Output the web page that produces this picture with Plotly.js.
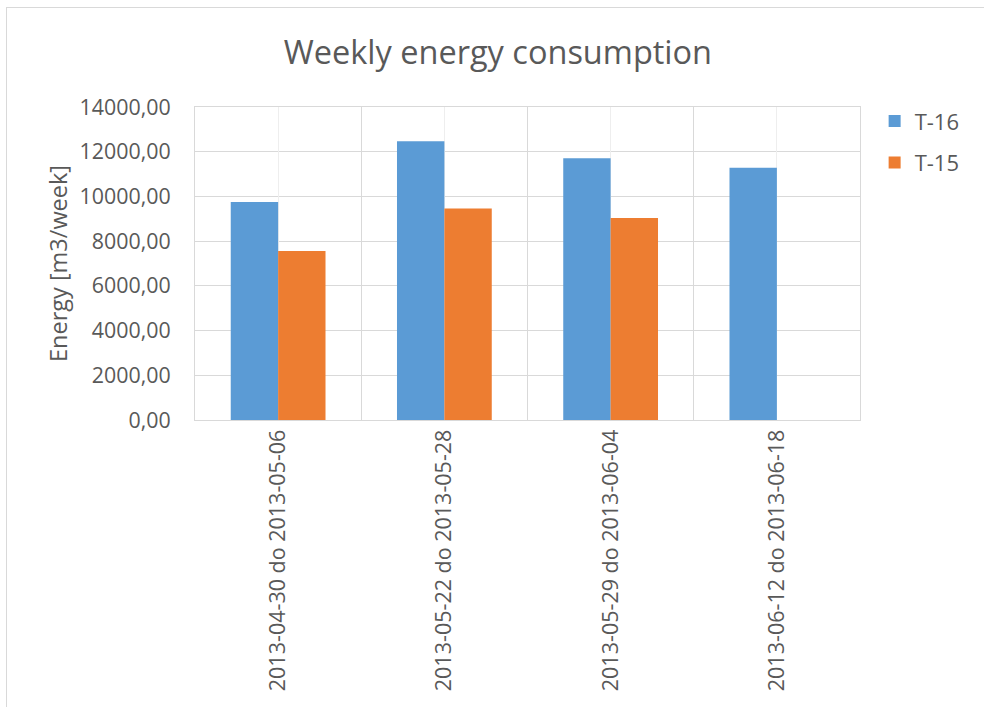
<!DOCTYPE html>
<html>
<head>
<meta charset="utf-8">
<script src="https://cdn.plot.ly/plotly-3.0.1.min.js"></script>
<style>
html,body{margin:0;padding:0;background:#fff;}
#wrap{position:relative;width:984px;height:707px;overflow:hidden;}
#chart{position:absolute;left:0;top:0;width:984px;height:707px;}
#frame{position:absolute;left:6px;top:7px;width:990px;height:720px;border:1px solid #d9d9d9;pointer-events:none;}
</style>
</head>
<body>
<div id="wrap"><div id="chart"></div><div id="frame"></div></div>
<script>
const categories = ["2013-04-30 do 2013-05-06", "2013-05-22 do 2013-05-28", "2013-05-29 do 2013-06-04", "2013-06-12 do 2013-06-18"];
const t16 = [9750, 12470, 11710, 11280];
const t15 = [7560, 9460, 9030, null];
const yTicks = [0, 2000, 4000, 6000, 8000, 10000, 12000, 14000];
const centerTicks = [0, 1, 2, 3];

const FONT = "Open Sans, Liberation Sans, Arial, sans-serif";
const GREY = "#595959";

const traces = [
  {type: "bar", name: "T-16", legendgroup: "a", x: categories, y: t16, marker: {color: "#5b9bd5"}},
  {type: "bar", name: "T-15", legendgroup: "b", x: categories, y: t15, marker: {color: "#ed7d31"}},
  {type: "scatter", x: centerTicks, y: centerTicks.map(() => null), xaxis: "x2", showlegend: false, hoverinfo: "skip"}
];

const layout = {
  width: 984, height: 707,
  margin: {l: 195, r: 124, t: 107, b: 287},
  paper_bgcolor: "#ffffff", plot_bgcolor: "#ffffff",
  separators: ", ",
  barmode: "group", bargap: 0.43, bargroupgap: 0,
  font: {family: FONT, color: GREY, size: 20},
  title: {text: "Weekly energy consumption", font: {family: FONT, size: 32.5, color: GREY}, x: 0.506, xanchor: "center", y: 0.925, yanchor: "middle"},
  xaxis: {
    type: "category", tickangle: -90, tickson: "boundaries",
    showgrid: true, gridcolor: "#d9d9d9", gridwidth: 1,
    showline: true, linecolor: "#d9d9d9", linewidth: 1, mirror: true,
    ticks: "outside", ticklen: 4, tickcolor: "rgba(0,0,0,0)", tickfont: {size: 21.5, color: GREY}, automargin: false
  },
  xaxis2: {
    overlaying: "x", type: "linear", range: [-0.5, 3.5], tickvals: centerTicks,
    showticklabels: false, showgrid: true, gridcolor: "#eeeeee", gridwidth: 1,
    zeroline: false, showline: false, ticks: ""
  },
  yaxis: {
    range: [0, 14000], tickvals: yTicks, tickformat: ".2f",
    showgrid: true, gridcolor: "#d9d9d9", gridwidth: 1, zeroline: false,
    showline: true, linecolor: "#d9d9d9", linewidth: 1, mirror: true,
    ticks: "outside", ticklen: 19, tickcolor: "rgba(0,0,0,0)",
    tickfont: {size: 21.4, color: GREY},
    title: {text: "Energy [m3/week]", font: {size: 23.5, color: GREY}, standoff: 5},
    automargin: false
  },
  legend: {x: 1.022, xanchor: "left", y: 1.022, yanchor: "top", xref: "paper", yref: "paper",
    traceorder: "grouped", tracegroupgap: 10,
    font: {size: 22, color: GREY}, itemwidth: 30, bgcolor: "rgba(0,0,0,0)"},
  showlegend: true
};

Plotly.newPlot("chart", traces, layout, {displayModeBar: false, staticPlot: true});
</script>
</body>
</html>
